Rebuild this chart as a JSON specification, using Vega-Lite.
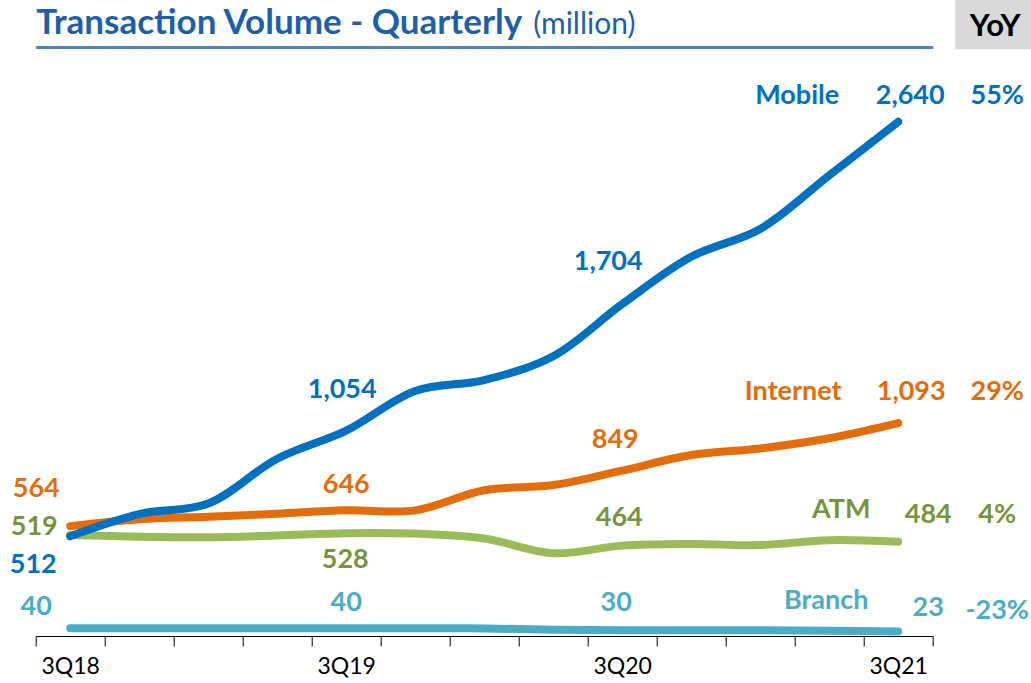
{
  "$schema": "https://vega.github.io/schema/vega-lite/v6.json",
  "width": 897,
  "height": 589,
  "autosize": "none",
  "padding": {"left": 35.7, "top": 47, "right": 98.3, "bottom": 47},
  "background": "white",
  "config": {
    "view": {"stroke": null},
    "text": {"font": "Lato", "fontSize": 27, "fontWeight": "bold", "align": "center", "baseline": "middle"}
  },
  "datasets": {
    "tx": [
      {"series": "Mobile", "q": "3Q18", "v": 512},
      {"series": "Mobile", "q": "4Q18", "v": 626},
      {"series": "Mobile", "q": "1Q19", "v": 680},
      {"series": "Mobile", "q": "2Q19", "v": 910},
      {"series": "Mobile", "q": "3Q19", "v": 1054},
      {"series": "Mobile", "q": "4Q19", "v": 1258},
      {"series": "Mobile", "q": "1Q20", "v": 1314},
      {"series": "Mobile", "q": "2Q20", "v": 1436},
      {"series": "Mobile", "q": "3Q20", "v": 1704},
      {"series": "Mobile", "q": "4Q20", "v": 1947},
      {"series": "Mobile", "q": "1Q21", "v": 2090},
      {"series": "Mobile", "q": "2Q21", "v": 2365},
      {"series": "Mobile", "q": "3Q21", "v": 2640},
      {"series": "Internet", "q": "3Q18", "v": 564},
      {"series": "Internet", "q": "4Q18", "v": 600},
      {"series": "Internet", "q": "1Q19", "v": 612},
      {"series": "Internet", "q": "2Q19", "v": 628},
      {"series": "Internet", "q": "3Q19", "v": 646},
      {"series": "Internet", "q": "4Q19", "v": 645},
      {"series": "Internet", "q": "1Q20", "v": 748},
      {"series": "Internet", "q": "2Q20", "v": 775},
      {"series": "Internet", "q": "3Q20", "v": 849},
      {"series": "Internet", "q": "4Q20", "v": 929},
      {"series": "Internet", "q": "1Q21", "v": 963},
      {"series": "Internet", "q": "2Q21", "v": 1015},
      {"series": "Internet", "q": "3Q21", "v": 1093},
      {"series": "ATM", "q": "3Q18", "v": 519},
      {"series": "ATM", "q": "4Q18", "v": 510},
      {"series": "ATM", "q": "1Q19", "v": 507},
      {"series": "ATM", "q": "2Q19", "v": 516},
      {"series": "ATM", "q": "3Q19", "v": 528},
      {"series": "ATM", "q": "4Q19", "v": 526},
      {"series": "ATM", "q": "1Q20", "v": 501},
      {"series": "ATM", "q": "2Q20", "v": 425},
      {"series": "ATM", "q": "3Q20", "v": 464},
      {"series": "ATM", "q": "4Q20", "v": 472},
      {"series": "ATM", "q": "1Q21", "v": 467},
      {"series": "ATM", "q": "2Q21", "v": 492},
      {"series": "ATM", "q": "3Q21", "v": 484},
      {"series": "Branch", "q": "3Q18", "v": 40},
      {"series": "Branch", "q": "4Q18", "v": 40},
      {"series": "Branch", "q": "1Q19", "v": 40},
      {"series": "Branch", "q": "2Q19", "v": 40},
      {"series": "Branch", "q": "3Q19", "v": 40},
      {"series": "Branch", "q": "4Q19", "v": 40},
      {"series": "Branch", "q": "1Q20", "v": 39},
      {"series": "Branch", "q": "2Q20", "v": 32},
      {"series": "Branch", "q": "3Q20", "v": 30},
      {"series": "Branch", "q": "4Q20", "v": 30},
      {"series": "Branch", "q": "1Q21", "v": 29},
      {"series": "Branch", "q": "2Q21", "v": 27},
      {"series": "Branch", "q": "3Q21", "v": 23}
    ],
    "yoy": [
      {"series": "Mobile", "yoy": "55%"},
      {"series": "Internet", "yoy": "29%"},
      {"series": "ATM", "yoy": "4%"},
      {"series": "Branch", "yoy": "-23%"}
    ]
  },
  "data": {"name": "tx"},
  "encoding": {
    "x": {
      "field": "q",
      "type": "ordinal",
      "sort": ["3Q18", "4Q18", "1Q19", "2Q19", "3Q19", "4Q19", "1Q20", "2Q20", "3Q20", "4Q20", "1Q21", "2Q21", "3Q21"],
      "bandPosition": 0.5,
      "scale": {"type": "band", "paddingInner": 0, "paddingOuter": 0},
      "axis": {
        "title": "Transaction Volume - Quarterly",
        "titleX": 0,
        "titleY": -603,
        "titleAlign": "left",
        "titleAnchor": "start",
        "titleBaseline": "alphabetic",
        "titleFont": "Lato",
        "titleFontSize": 35,
        "titleFontWeight": "bold",
        "titleColor": "#1F5FAA",
        "tickBand": "extent",
        "labelExpr": "indexof(datum.label, '3Q') === 0 ? datum.label : ''",
        "labelAngle": 0,
        "labelOverlap": false,
        "labelFont": "Lato",
        "labelFontSize": 23,
        "labelColor": "#000000",
        "labelPadding": 9,
        "domainColor": "#000000",
        "domainWidth": 1,
        "tickColor": "#000000",
        "tickWidth": 1,
        "tickSize": 10,
        "grid": false
      }
    },
    "y": {
      "field": "v",
      "type": "quantitative",
      "scale": {"domain": [0, 3024], "nice": false, "zero": true},
      "axis": {
        "title": "(million)",
        "titleAngle": 0,
        "titleAlign": "left",
        "titleBaseline": "alphabetic",
        "titleX": 497,
        "titleY": -14,
        "titleFont": "Lato",
        "titleFontSize": 30,
        "titleFontWeight": "normal",
        "titleColor": "#1F5FAA",
        "values": [3024],
        "grid": true,
        "gridColor": "#4F81BD",
        "gridWidth": 3,
        "labels": false,
        "ticks": false,
        "domain": false
      }
    }
  },
  "layer": [
    {
      "transform": [{"filter": "datum.series === 'Branch'"}],
      "layer": [
        {"mark": {"type": "line", "color": "#4BACC6", "strokeWidth": 8, "strokeCap": "round", "interpolate": "catmull-rom"}, "encoding": {}},
        {"transform": [{"filter": "datum.q === '3Q18'"}], "mark": {"type": "text", "color": "#4BACC6", "dx": -34, "dy": -21}, "encoding": {"text": {"field": "v", "type": "quantitative", "format": ","}}},
        {"transform": [{"filter": "datum.q === '3Q19'"}], "mark": {"type": "text", "color": "#4BACC6", "dx": 0, "dy": -25}, "encoding": {"text": {"field": "v", "type": "quantitative", "format": ","}}},
        {"transform": [{"filter": "datum.q === '3Q20'"}], "mark": {"type": "text", "color": "#4BACC6", "dx": -6, "dy": -27}, "encoding": {"text": {"field": "v", "type": "quantitative", "format": ","}}},
        {"transform": [{"filter": "datum.q === '3Q21'"}], "mark": {"type": "text", "color": "#4BACC6", "dx": 30, "dy": -24}, "encoding": {"text": {"field": "v", "type": "quantitative", "format": ","}}},
        {"transform": [{"filter": "datum.q === '3Q21'"}], "mark": {"type": "text", "color": "#4BACC6", "dx": -72, "dy": -31}, "encoding": {"text": {"field": "series"}}},
        {"transform": [{"filter": "datum.q === '3Q21'"}, {"lookup": "series", "from": {"data": {"name": "yoy"}, "key": "series", "fields": ["yoy"]}}], "mark": {"type": "text", "color": "#4BACC6", "dx": 99, "dy": -21}, "encoding": {"text": {"field": "yoy"}}}
      ]
    },
    {
      "transform": [{"filter": "datum.series === 'ATM'"}],
      "layer": [
        {"mark": {"type": "line", "color": "#9BBB59", "strokeWidth": 8, "strokeCap": "round", "interpolate": "catmull-rom"}, "encoding": {}},
        {"transform": [{"filter": "datum.q === '3Q18'"}], "mark": {"type": "text", "color": "#77933C", "dx": -36, "dy": -8}, "encoding": {"text": {"field": "v", "type": "quantitative", "format": ","}}},
        {"transform": [{"filter": "datum.q === '3Q19'"}], "mark": {"type": "text", "color": "#77933C", "dx": -1, "dy": 27}, "encoding": {"text": {"field": "v", "type": "quantitative", "format": ","}}},
        {"transform": [{"filter": "datum.q === '3Q20'"}], "mark": {"type": "text", "color": "#77933C", "dx": -3, "dy": -28}, "encoding": {"text": {"field": "v", "type": "quantitative", "format": ","}}},
        {"transform": [{"filter": "datum.q === '3Q21'"}], "mark": {"type": "text", "color": "#77933C", "dx": 30, "dy": -27}, "encoding": {"text": {"field": "v", "type": "quantitative", "format": ","}}},
        {"transform": [{"filter": "datum.q === '3Q21'"}], "mark": {"type": "text", "color": "#77933C", "dx": -57, "dy": -32}, "encoding": {"text": {"field": "series"}}},
        {"transform": [{"filter": "datum.q === '3Q21'"}, {"lookup": "series", "from": {"data": {"name": "yoy"}, "key": "series", "fields": ["yoy"]}}], "mark": {"type": "text", "color": "#77933C", "dx": 99, "dy": -27}, "encoding": {"text": {"field": "yoy"}}}
      ]
    },
    {
      "transform": [{"filter": "datum.series === 'Internet'"}],
      "layer": [
        {"mark": {"type": "line", "color": "#E46C0A", "strokeWidth": 8, "strokeCap": "round", "interpolate": "catmull-rom"}, "encoding": {}},
        {"transform": [{"filter": "datum.q === '3Q18'"}], "mark": {"type": "text", "color": "#E46C0A", "dx": -34, "dy": -37}, "encoding": {"text": {"field": "v", "type": "quantitative", "format": ","}}},
        {"transform": [{"filter": "datum.q === '3Q19'"}], "mark": {"type": "text", "color": "#E46C0A", "dx": 0, "dy": -25}, "encoding": {"text": {"field": "v", "type": "quantitative", "format": ","}}},
        {"transform": [{"filter": "datum.q === '3Q20'"}], "mark": {"type": "text", "color": "#E46C0A", "dx": -7, "dy": -31}, "encoding": {"text": {"field": "v", "type": "quantitative", "format": ","}}},
        {"transform": [{"filter": "datum.q === '3Q21'"}], "mark": {"type": "text", "color": "#E46C0A", "dx": 13, "dy": -31}, "encoding": {"text": {"field": "v", "type": "quantitative", "format": ","}}},
        {"transform": [{"filter": "datum.q === '3Q21'"}], "mark": {"type": "text", "color": "#E46C0A", "dx": -105, "dy": -31}, "encoding": {"text": {"field": "series"}}},
        {"transform": [{"filter": "datum.q === '3Q21'"}, {"lookup": "series", "from": {"data": {"name": "yoy"}, "key": "series", "fields": ["yoy"]}}], "mark": {"type": "text", "color": "#E46C0A", "dx": 99, "dy": -31}, "encoding": {"text": {"field": "yoy"}}}
      ]
    },
    {
      "transform": [{"filter": "datum.series === 'Mobile'"}],
      "layer": [
        {"mark": {"type": "line", "color": "#0070C0", "strokeWidth": 8, "strokeCap": "round", "interpolate": "catmull-rom"}, "encoding": {}},
        {"transform": [{"filter": "datum.q === '3Q18'"}], "mark": {"type": "text", "color": "#0070C0", "dx": -37, "dy": 29}, "encoding": {"text": {"field": "v", "type": "quantitative", "format": ","}}},
        {"transform": [{"filter": "datum.q === '3Q19'"}], "mark": {"type": "text", "color": "#0070C0", "dx": -4, "dy": -41}, "encoding": {"text": {"field": "v", "type": "quantitative", "format": ","}}},
        {"transform": [{"filter": "datum.q === '3Q20'"}], "mark": {"type": "text", "color": "#0070C0", "dx": -14, "dy": -42}, "encoding": {"text": {"field": "v", "type": "quantitative", "format": ","}}},
        {"transform": [{"filter": "datum.q === '3Q21'"}], "mark": {"type": "text", "color": "#0070C0", "dx": 12, "dy": -26}, "encoding": {"text": {"field": "v", "type": "quantitative", "format": ","}}},
        {"transform": [{"filter": "datum.q === '3Q21'"}], "mark": {"type": "text", "color": "#0070C0", "dx": -101, "dy": -26}, "encoding": {"text": {"field": "series"}}},
        {"transform": [{"filter": "datum.q === '3Q21'"}, {"lookup": "series", "from": {"data": {"name": "yoy"}, "key": "series", "fields": ["yoy"]}}], "mark": {"type": "text", "color": "#0070C0", "dx": 99, "dy": -26}, "encoding": {"text": {"field": "yoy"}}},
        {
          "transform": [{"filter": "datum.q === '3Q21'"}],
          "mark": {"type": "bar", "color": "#D9D9D9", "width": 80, "xOffset": 97},
          "encoding": {"y": {"datum": 3013}, "y2": {"datum": 3265}}
        },
        {
          "transform": [{"filter": "datum.q === '3Q21'"}],
          "mark": {"type": "text", "color": "#000000", "fontSize": 31, "dx": 97, "dy": -95},
          "encoding": {"text": {"value": "YoY"}}
        }
      ]
    }
  ]
}
